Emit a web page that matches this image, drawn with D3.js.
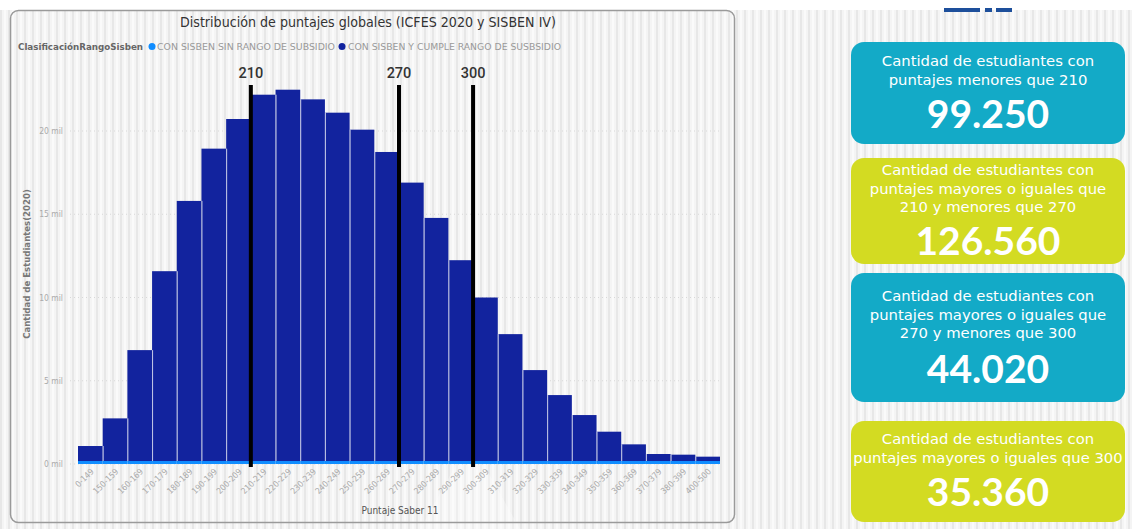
<!DOCTYPE html>
<html>
<head>
<meta charset="utf-8">
<script src="https://cdn.jsdelivr.net/npm/d3@7/dist/d3.min.js"></script>
<style>
  html, body { margin: 0; padding: 0; background: #ffffff; }
  svg { display: block; }
</style>
</head>
<body>
<svg id="chart" width="1132" height="529"></svg>
<script>
// ---------- DATA ----------
const categories = ["0-149","150-159","160-169","170-179","180-189","190-199","200-209",
  "210-219","220-229","230-239","240-249","250-259","260-269","270-279","280-289","290-299",
  "300-309","310-319","320-329","330-339","340-349","350-359","360-369","370-379","380-399","400-500"];
// CON SISBEN Y CUMPLE RANGO DE SUSBSIDIO (dark blue)
const seriesCumple = [900, 2560, 6660, 11400, 15620, 18760, 20540,
  22000, 22300, 21720, 20920, 19900, 18560, 16720, 14600, 12060,
  9820, 7620, 5460, 3960, 2760, 1760, 1000, 420, 380, 260];
// CON SISBEN SIN RANGO DE SUBSIDIO (light blue)
const seriesSinRango = [180, 180, 180, 180, 180, 180, 180,
  180, 180, 180, 180, 180, 180, 180, 180, 180,
  180, 180, 180, 180, 180, 180, 180, 180, 180, 180];
const seriesNames = ["CON SISBEN SIN RANGO DE SUBSIDIO", "CON SISBEN Y CUMPLE RANGO DE SUSBSIDIO"];
const yTicks = [0, 5000, 10000, 15000, 20000];
const refValues = [210, 270, 300];
const refCategories = ["210-219", "270-279", "300-309"];
const cardLines = [
  ["Cantidad de estudiantes con", "puntajes menores que 210"],
  ["Cantidad de estudiantes con", "puntajes mayores o iguales que", "210 y menores que 270"],
  ["Cantidad de estudiantes con", "puntajes mayores o iguales que", "270 y menores que 300"],
  ["Cantidad de estudiantes con", "puntajes mayores o iguales que 300"]
];
const cardValues = ["99.250", "126.560", "44.020", "35.360"];
const chartTitle = "Distribución de puntajes globales (ICFES 2020 y SISBEN IV)";
const legendTitle = "ClasificaciónRangoSisben";
const xTitle = "Puntaje Saber 11";
const yTitle = "Cantidad de Estudiantes(2020)";

// ---------- SETUP ----------
const svg = d3.select("#chart");
const W = 1132, H = 529;
const darkBlue = "#12239e", lightBlue = "#118dff";
const teal = "#13aac7", lime = "#d3db22";

// background stripes
const defs = svg.append("defs");
const pat = defs.append("pattern").attr("id", "stripes").attr("patternUnits", "userSpaceOnUse")
  .attr("width", 8).attr("height", 8);
pat.append("rect").attr("width", 8).attr("height", 8).attr("fill", "#f4f4f4");
pat.append("rect").attr("x", 0).attr("width", 2).attr("height", 8).attr("fill", "#e7e7e7");
pat.append("rect").attr("x", 4).attr("width", 2).attr("height", 8).attr("fill", "#fafafa");

svg.append("rect").attr("width", W).attr("height", H).attr("fill", "#ffffff");
svg.append("rect").attr("x", 0).attr("y", 10).attr("width", W).attr("height", H - 10).attr("fill", "url(#stripes)");

// faint light shape in background
svg.append("path").attr("d", "M420,529 L470,440 L520,529 Z").attr("fill", "#ffffff").attr("opacity", 0.3);

// top logo fragment
const logo = svg.append("g").attr("fill", "#1d4f9b");
[[944, 36], [985, 7], [996, 16]].forEach(([x, w]) => logo.append("rect").attr("x", x).attr("y", 8).attr("width", w).attr("height", 4));

// ---------- CHART PANEL ----------
svg.append("rect").attr("x", 10.5).attr("y", 10.5).attr("width", 724).attr("height", 512)
  .attr("rx", 8).attr("fill", "none").attr("stroke", "#9a9a9a").attr("stroke-width", 1.5);

svg.append("text").attr("x", 368).attr("y", 27).attr("text-anchor", "middle")
  .attr("font-family", "DejaVu Sans Condensed, DejaVu Sans").attr("font-size", 13.5)
  .attr("fill", "#333").attr("textLength", 376).attr("lengthAdjust", "spacingAndGlyphs")
  .text(chartTitle);

// legend
const lg = svg.append("g").attr("font-family", "DejaVu Sans Condensed, DejaVu Sans").attr("font-size", 8.5);
lg.append("text").attr("x", 18).attr("y", 49.5).attr("font-weight", "bold").attr("fill", "#666")
  .attr("textLength", 125).attr("lengthAdjust", "spacingAndGlyphs").text(legendTitle);
lg.append("circle").attr("cx", 152).attr("cy", 46.5).attr("r", 3.5).attr("fill", lightBlue);
lg.append("text").attr("x", 157).attr("y", 49.5).attr("fill", "#999")
  .attr("textLength", 178).attr("lengthAdjust", "spacingAndGlyphs").text(seriesNames[0]);
lg.append("circle").attr("cx", 342).attr("cy", 46.5).attr("r", 3.5).attr("fill", darkBlue);
lg.append("text").attr("x", 348).attr("y", 49.5).attr("fill", "#999")
  .attr("textLength", 213).attr("lengthAdjust", "spacingAndGlyphs").text(seriesNames[1]);

// scales
const x = d3.scaleBand().domain(categories).range([78, 720]).paddingInner(0).paddingOuter(0);
const y = d3.scaleLinear().domain([0, 20000]).range([464, 131]);

// gridlines
svg.append("g").selectAll("line").data(yTicks).join("line")
  .attr("x1", 70).attr("x2", 720).attr("y1", d => y(d)).attr("y2", d => y(d))
  .attr("stroke", "#d8d8d8").attr("stroke-width", 1).attr("stroke-dasharray", "1,3");

// y axis
const yAxis = d3.axisLeft(y).tickValues(yTicks).tickSize(0).tickPadding(0)
  .tickFormat(d => (d / 1000) + " mil");
const yg = svg.append("g").attr("transform", "translate(63,0)").call(yAxis);
yg.select(".domain").remove();
yg.selectAll("text").attr("font-family", "DejaVu Sans Condensed, DejaVu Sans").attr("font-size", 8.5)
  .attr("fill", "#aaa").attr("dy", "0.32em");

// bars (stacked)
const stackData = categories.map((c, i) => ({cat: c, sin: seriesSinRango[i], cumple: seriesCumple[i]}));
const stacked = d3.stack().keys(["sin", "cumple"])(stackData);
const colors = {sin: lightBlue, cumple: darkBlue};
svg.append("g").selectAll("g").data(stacked).join("g")
  .attr("fill", d => colors[d.key])
  .selectAll("rect").data(d => d).join("rect")
  .attr("x", d => x(d.data.cat))
  .attr("width", x.bandwidth())
  .attr("y", d => y(d[1]))
  .attr("height", d => y(d[0]) - y(d[1]));
// white separators between bars
const totals = categories.map((c, i) => seriesCumple[i] + seriesSinRango[i]);
svg.append("g").selectAll("line").data(categories.slice(1)).join("line")
  .attr("x1", d => x(d) + 0.5).attr("x2", d => x(d) + 0.5)
  .attr("y1", (d, i) => y(Math.min(totals[i], totals[i + 1])))
  .attr("y2", y(seriesSinRango[0]))
  .attr("stroke", "#ffffff").attr("stroke-opacity", 0.75).attr("stroke-width", 1);

// x axis
const xAxis = d3.axisBottom(x).tickSize(0).tickPadding(0);
const xg = svg.append("g").attr("transform", "translate(0,466)").call(xAxis);
xg.select(".domain").remove();
xg.selectAll("text").attr("font-family", "DejaVu Sans Condensed, DejaVu Sans").attr("font-size", 8.5)
  .attr("fill", "#aaa").attr("text-anchor", "end").attr("dy", 0)
  .attr("transform", "translate(4,6) rotate(-45)");

// axis titles
svg.append("text").attr("x", 400).attr("y", 514).attr("text-anchor", "middle")
  .attr("font-family", "DejaVu Sans Condensed, DejaVu Sans").attr("font-size", 10).attr("fill", "#555")
  .text(xTitle);
svg.append("text").attr("transform", "translate(30,264) rotate(-90)").attr("text-anchor", "middle")
  .attr("font-family", "DejaVu Sans Condensed, DejaVu Sans").attr("font-size", 9.5).attr("font-weight", "bold")
  .attr("fill", "#777").text(yTitle);

// reference lines
const refG = svg.append("g");
refCategories.forEach((c, i) => {
  const xv = x(c);
  refG.append("line").attr("x1", xv).attr("x2", xv).attr("y1", 85).attr("y2", 467)
    .attr("stroke", "#000").attr("stroke-width", 4);
  refG.append("text").attr("x", xv).attr("y", 78).attr("text-anchor", "middle")
    .attr("font-family", "Roboto, DejaVu Sans").attr("font-size", 14.5).attr("font-weight", "500")
    .attr("fill", "#333").text(refValues[i]);
});

// ---------- CARDS ----------
const cards = [
  {y: 42, h: 102, color: teal, lineY: [66, 85], valY: 128},
  {y: 158, h: 106, color: lime, lineY: [175, 194, 212], valY: 255},
  {y: 273, h: 129, color: teal, lineY: [301, 320, 338], valY: 383},
  {y: 421, h: 101, color: lime, lineY: [444, 463], valY: 506}
];
const cg = svg.append("g");
cards.forEach((c, i) => {
  cg.append("rect").attr("x", 851).attr("y", c.y).attr("width", 274).attr("height", c.h)
    .attr("rx", 13).attr("fill", c.color);
  cardLines[i].forEach((t, j) => {
    cg.append("text").attr("x", 988).attr("y", c.lineY[j]).attr("text-anchor", "middle")
      .attr("font-family", "DejaVu Sans").attr("font-size", 14.8).attr("fill", "#fff").text(t);
  });
  cg.append("text").attr("x", 988).attr("y", c.valY).attr("text-anchor", "middle")
    .attr("font-family", "Lato, DejaVu Sans").attr("font-weight", "bold").attr("font-size", 39)
    .attr("fill", "#fff").text(cardValues[i]);
});
</script>
</body>
</html>
